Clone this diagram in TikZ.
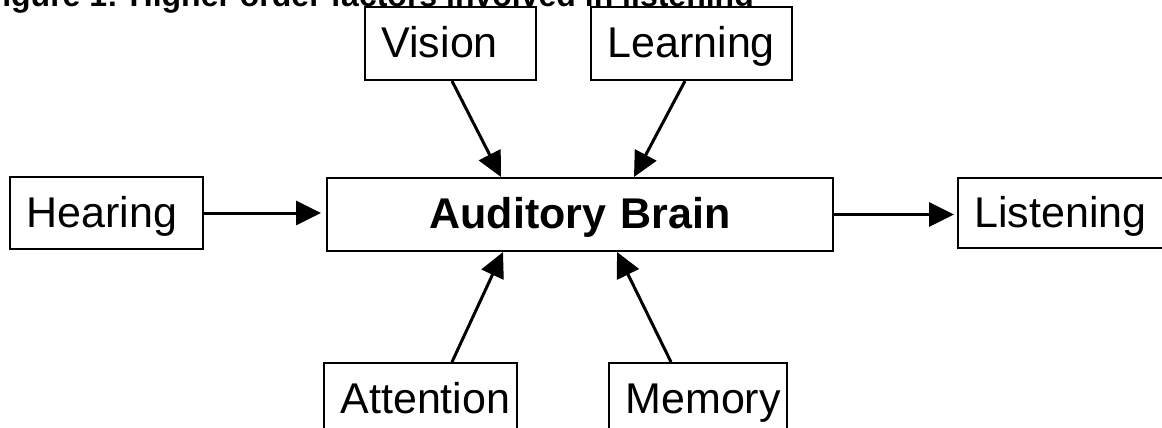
\documentclass[tikz,border=0pt]{standalone}
\usepackage{fontspec}
\setmainfont{Liberation Sans}
\usetikzlibrary{arrows.meta,calc}
\begin{document}
\begin{tikzpicture}[x=1pt,y=-1pt,
  box/.style={draw=black,line width=2pt,fill=white,inner xsep=16.5pt,inner ysep=0pt,
    align=left,text height=31pt,text depth=3pt,
    font=\fontsize{43}{50}\selectfont},
  conn/.style={line width=3pt,-{Triangle[length=25pt,width=24pt]}}
]
\useasboundingbox (0,0) rectangle (1162,428);
\node[anchor=base east,font=\bfseries\fontsize{32}{38}\selectfont,inner sep=0pt] (title) at (754,7) {Figure 1: Higher order factors involved in listening};
\node[box,text width=160pt,minimum height=72pt] (hearing) at (106.5,213) {Hearing};
\node[box,align=center,text width=473pt,minimum height=73pt,font=\bfseries\fontsize{43}{50}\selectfont] (brain) at (580,214.5) {Auditory Brain};
\node[box,text width=173pt,minimum height=70pt] (listening) at (1061,213) {Listening};
\node[box,text width=138pt,minimum height=73pt] (vision) at (450.5,43.5) {Vision};
\node[box,text width=168pt,minimum height=73pt] (learning) at (691.5,43.5) {Learning};
\node[box,text width=160pt,minimum height=72pt] (attention) at (420.5,399) {Attention};
\node[box,text width=145pt,minimum height=72pt] (memory) at (698,399) {Memory};
\draw[conn,shorten >=5pt] (hearing.east) -- (hearing.east -| brain.west);
\draw[conn,shorten >=3pt] (brain.east) -- (brain.east -| listening.west);
\draw[conn] ($(vision.south)+(1.5,0)$) -- ($(brain.north west)+(175,0)$);
\draw[conn] ($(learning.south)+(-6.5,0)$) -- ($(brain.north west)+(308,0)$);
\draw[conn] ($(attention.north)+(31.5,0)$) -- ($(brain.south west)+(177,0)$);
\draw[conn] ($(memory.north)+(-27,0)$) -- ($(brain.south west)+(291,0)$);
\end{tikzpicture}
\end{document}
